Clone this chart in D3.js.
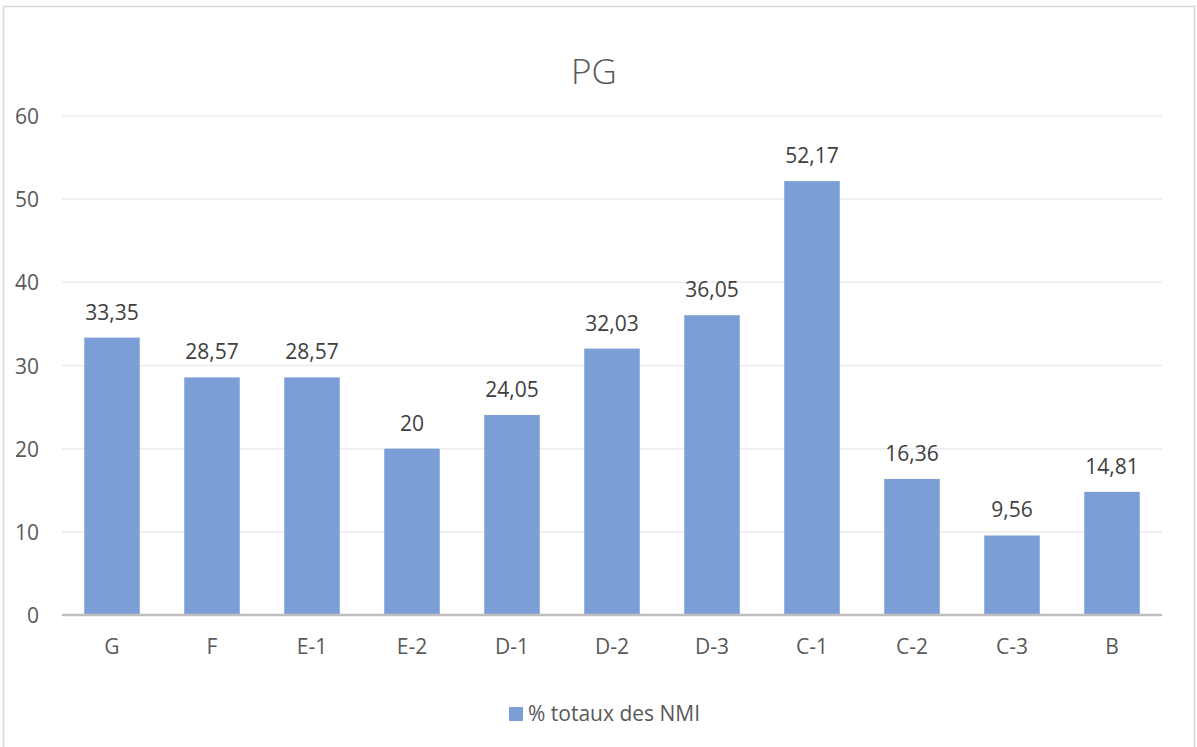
<!DOCTYPE html>
<html>
<head>
<meta charset="utf-8">
<script src="https://cdn.jsdelivr.net/npm/d3@7"></script>
<style>
html,body{margin:0;padding:0;background:#fff;}
svg{display:block;font-family:"Open Sans","Noto Sans",sans-serif;}
</style>
</head>
<body>
<script>
const categories = ["G","F","E-1","E-2","D-1","D-2","D-3","C-1","C-2","C-3","B"];
const values = [33.35,28.57,28.57,20,24.05,32.03,36.05,52.17,16.36,9.56,14.81];
const labels = ["33,35","28,57","28,57","20","24,05","32,03","36,05","52,17","16,36","9,56","14,81"];
const yTicks = [0,10,20,30,40,50,60];
const title = "PG";
const seriesName = "% totaux des NMI";

const W = 1197, H = 747;
const svg = d3.select("body").append("svg").attr("width", W).attr("height", H);

// outer border
svg.append("rect").attr("x",3.5).attr("y",6.5).attr("width",1191).attr("height",745)
  .attr("fill","#fff").attr("stroke","#d9d9d9").attr("stroke-width",1.5);

const pL = 62, pR = 1162, pT = 116, pB = 615;
const x = d3.scaleBand().domain(categories).range([pL,pR]).paddingInner(0.445).paddingOuter(0.2225);
const y = d3.scaleLinear().domain([0,60]).range([pB,pT]);

// gridlines
svg.append("g").selectAll("line").data(yTicks.filter(d=>d>0)).join("line")
  .attr("x1",pL).attr("x2",pR).attr("y1",d=>y(d)).attr("y2",d=>y(d))
  .attr("stroke","#ececec").attr("stroke-width",1.5);

// y axis labels
const yAxis = d3.axisLeft(y).tickValues(yTicks).tickSize(0).tickPadding(0).tickFormat(d3.format("d"));
const yg = svg.append("g").attr("transform",`translate(39,0)`).call(yAxis);
yg.select(".domain").remove();
yg.attr("font-family",null).attr("font-size",21);
yg.selectAll("text").attr("fill","#595959").attr("dy","0.36em");

// bars
svg.append("g").selectAll("rect").data(values).join("rect")
  .attr("x",(d,i)=>x(categories[i])).attr("width",x.bandwidth())
  .attr("y",d=>y(d)).attr("height",d=>y(0)-y(d))
  .attr("fill","#7b9ed7");

// zero line
svg.append("line").attr("x1",pL).attr("x2",pR).attr("y1",y(0)).attr("y2",y(0))
  .attr("stroke","#bfbfbf").attr("stroke-width",2.5);

// x axis labels
const xAxis = d3.axisBottom(x).tickSize(0).tickPadding(0);
const xg = svg.append("g").attr("transform",`translate(0,${pB})`).call(xAxis);
xg.select(".domain").remove();
xg.attr("font-family",null).attr("font-size",21);
xg.selectAll("text").attr("fill","#595959").attr("dy",0).attr("y",39);

// data labels
svg.append("g").selectAll("text").data(values).join("text")
  .attr("x",(d,i)=>x(categories[i])+x.bandwidth()/2).attr("y",d=>y(d)-18)
  .attr("text-anchor","middle").attr("fill","#404040").attr("font-size",21)
  .text((d,i)=>labels[i]);

// title
svg.append("text").attr("x",594).attr("y",84).attr("text-anchor","middle")
  .attr("fill","#595959").attr("font-size",35).attr("font-weight",300).text(title);

// legend
svg.append("rect").attr("x",509).attr("y",707).attr("width",14).attr("height",14).attr("fill","#7b9ed7");
svg.append("text").attr("x",528).attr("y",721).attr("fill","#595959").attr("font-size",21).text(seriesName);
</script>
</body>
</html>
